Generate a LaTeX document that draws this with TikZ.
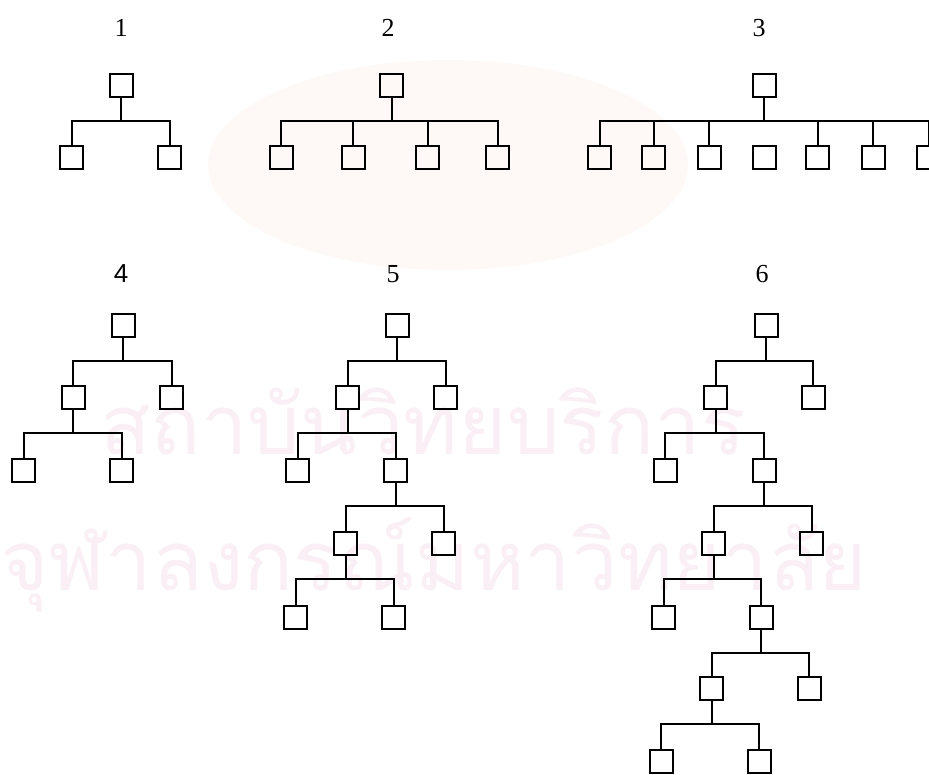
\documentclass[tikz,border=0pt]{standalone}
\usepackage{fontspec}
\setmainfont{Liberation Serif}
\newfontfamily\sansnum{Liberation Sans}
\newfontfamily\thaifont[Script=Thai]{Loma}
\definecolor{wmpink}{RGB}{250,239,244}
\definecolor{wmgold}{RGB}{254,249,246}
\tikzset{
  bx/.style={draw, line width=2pt, minimum size=23pt, inner sep=0pt, fill=none},
  ln/.style={line width=2pt},
  num/.style={anchor=base, font=\fontsize{26}{26}\selectfont, inner sep=0pt},
  wm/.style={anchor=base west, text=wmpink, inner sep=0pt, font=\thaifont\fontsize{83}{83}\selectfont}
}
\usetikzlibrary{calc}
\newcommand{\forktwo}[3]{%
  \coordinate (#1b) at ($(#1)+(0,35.5)$);
  \draw[ln] (#1.south) -- (#1b);
  \draw[ln] (#2.north) |- (#1b) -| (#3.north);
}
\begin{document}
\begin{tikzpicture}[x=1pt,y=-1pt]
\useasboundingbox (0,0) rectangle (929,774);
\clip (0,0) rectangle (929,774);
% watermark
\fill[wmgold] (448,165) ellipse [x radius=240, y radius=105];
\node[wm] (wm1) at (100,454) {สถาบันวิทยบริการ};
\node[wm] (wm2) at (0,590) {จุฬาลงกรณ์มหาวิทยาลัย};
% labels
\node[num] (n1) at (121,36) {1};
\node[num] (n2) at (388,36) {2};
\node[num] (n3) at (759,36) {3};
\node[num, font=\sansnum\fontsize{26}{26}\selectfont] (n4) at (121,282) {4};
\node[num] (n5) at (393,282) {5};
\node[num] (n6) at (762,282) {6};
% tree 1
\node[bx] (a) at (121,85) {};
\node[bx] (a1) at (71.5,157) {};
\node[bx] (a2) at (169.5,157) {};
\forktwo{a}{a1}{a2}
% tree 2
\node[bx] (b) at (391.5,85) {};
\node[bx] (b1) at (281.3,157) {};
\node[bx] (b2) at (353,157) {};
\node[bx] (b3) at (427.5,157) {};
\node[bx] (b4) at (497.5,157) {};
\forktwo{b}{b1}{b4}
\draw[ln] (b2.north) -- (b2 |- bb);
\draw[ln] (b3.north) -- (b3 |- bb);
% tree 3
\node[bx] (c) at (764,85) {};
\node[bx] (c1) at (599.5,157) {};
\node[bx] (c2) at (653.5,157) {};
\node[bx] (c3) at (709,157) {};
\node[bx] (c4) at (764,157) {};
\node[bx] (c5) at (817.5,157) {};
\node[bx] (c6) at (873,157) {};
\node[bx] (c7) at (928.5,157) {};
\forktwo{c}{c1}{c7}
\foreach \k in {2,3,5,6} {\draw[ln] (c\k.north) -- (c\k |- cb);}
% tree 4
\node[bx] (d) at (123,325) {};
\node[bx] (d1) at (73,397) {};
\node[bx] (d2) at (171.5,397) {};
\node[bx] (d11) at (23.5,470) {};
\node[bx] (d12) at (121.5,470) {};
\forktwo{d}{d1}{d2}
\forktwo{d1}{d11}{d12}
% tree 5
\node[bx] (e) at (397,325) {};
\node[bx] (e1) at (347.5,397) {};
\node[bx] (e2) at (445.5,397) {};
\node[bx] (e11) at (297.5,470) {};
\node[bx] (e12) at (395.5,470) {};
\node[bx] (e121) at (345.7,543) {};
\node[bx] (e122) at (443.7,543) {};
\node[bx] (e1211) at (295.7,617) {};
\node[bx] (e1212) at (393.7,617) {};
\forktwo{e}{e1}{e2}
\forktwo{e1}{e11}{e12}
\forktwo{e12}{e121}{e122}
\forktwo{e121}{e1211}{e1212}
% tree 6
\node[bx] (f) at (766,325) {};
\node[bx] (f1) at (715.5,397) {};
\node[bx] (f2) at (813.3,397) {};
\node[bx] (f11) at (665.2,470) {};
\node[bx] (f12) at (764,470) {};
\node[bx] (f121) at (713.5,543) {};
\node[bx] (f122) at (811.5,543) {};
\node[bx] (f1211) at (663.5,617) {};
\node[bx] (f1212) at (761,617) {};
\node[bx] (f12121) at (711.5,688.5) {};
\node[bx] (f12122) at (809.3,688.5) {};
\node[bx] (f121211) at (661.3,761.5) {};
\node[bx] (f121212) at (759.3,761.5) {};
\forktwo{f}{f1}{f2}
\forktwo{f1}{f11}{f12}
\forktwo{f12}{f121}{f122}
\forktwo{f121}{f1211}{f1212}
\forktwo{f1212}{f12121}{f12122}
\forktwo{f12121}{f121211}{f121212}
\end{tikzpicture}
\end{document}
